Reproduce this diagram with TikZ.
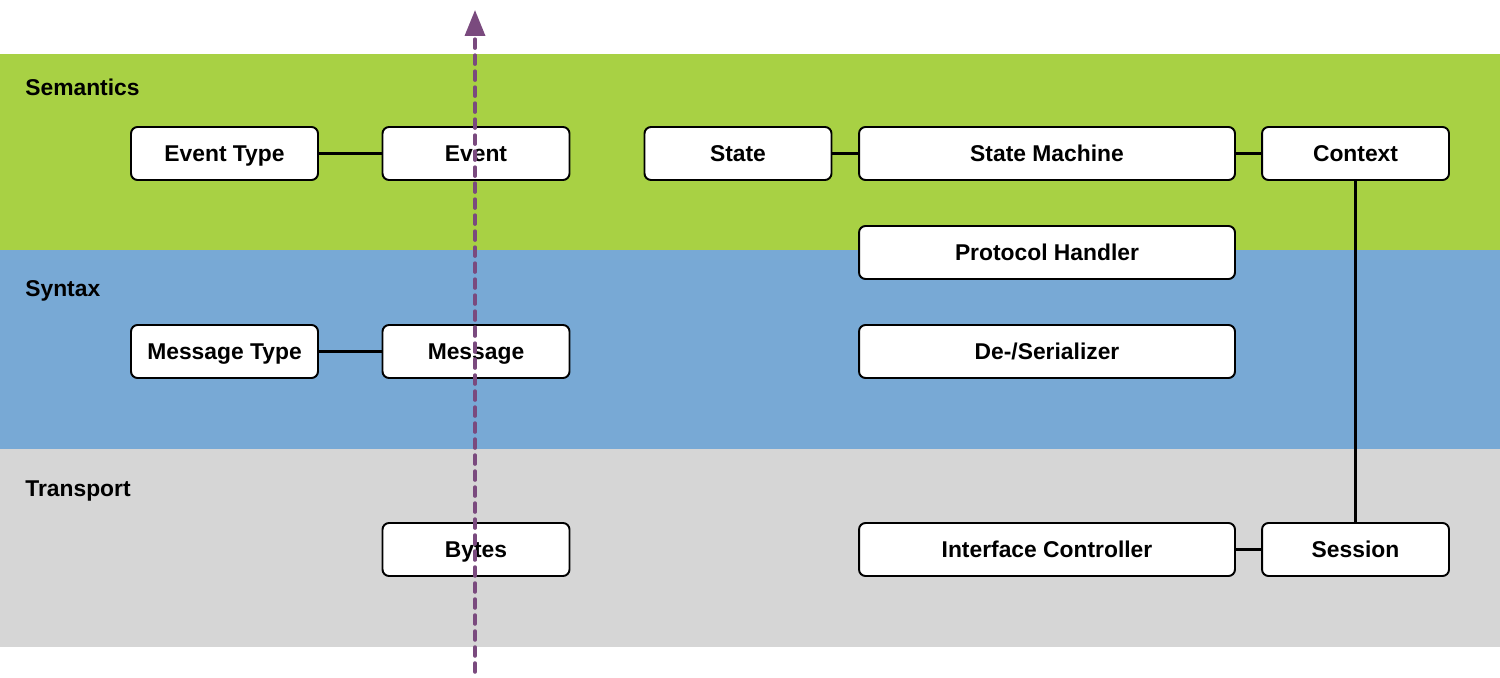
\documentclass[tikz,border=0pt]{standalone}
\usepackage{fontspec}
\setmainfont{Liberation Sans}
\usetikzlibrary{arrows.meta}
\definecolor{semgreen}{HTML}{A8D144}
\definecolor{synblue}{HTML}{78A9D5}
\definecolor{trgray}{HTML}{D6D6D6}
\definecolor{flowpurple}{HTML}{7A4A7E}
\tikzset{
  box/.style={draw=black, fill=white, line width=1.1pt, rounded corners=0.13cm,
    minimum width=3.74cm, minimum height=1.06cm, inner sep=0pt,
    text height=9.3pt, text depth=0pt,
    font=\fontsize{13}{15}\selectfont\bfseries},
  widebox/.style={box, minimum width=7.52cm},
  layerlabel/.style={anchor=west, inner sep=0pt, text height=9.3pt, text depth=0pt,
    font=\fontsize{13}{15}\selectfont\bfseries},
  link/.style={draw=black, line width=1.4pt},
  flow/.style={draw=flowpurple, line width=2pt, line cap=round,
    dash pattern=on 0.18cm off 0.14cm,
    -{Triangle[width=0.4cm,length=0.52cm,line cap=butt]}}
}
\begin{document}
\begin{tikzpicture}[x=0.02cm,y=-0.02cm]
\useasboundingbox (0,0) rectangle (1500,678);
\fill[semgreen] (0,54) rectangle (1500,250);
\fill[synblue] (0,250) rectangle (1500,449);
\fill[trgray] (0,449) rectangle (1500,647);
\node[layerlabel] (lsem) at (25,87) {Semantics};
\node[layerlabel] (lsyn) at (25,288) {Syntax};
\node[layerlabel] (ltr) at (25,488) {Transport};

\node[box] (evtype) at (224.5,153.5) {Event Type};
\node[box] (event) at (476,153.5) {Event};
\node[box] (state) at (738,153.5) {State};
\node[widebox] (sm) at (1047,153.5) {State Machine};
\node[box] (ctx) at (1355.5,153.5) {Context};
\node[widebox] (ph) at (1047,252.5) {Protocol Handler};
\node[box] (msgtype) at (224.5,351.5) {Message Type};
\node[box] (msg) at (476,351.5) {Message};
\node[widebox] (ser) at (1047,351.5) {De-/Serializer};
\node[box] (bytes) at (476,549.5) {Bytes};
\node[widebox] (ic) at (1047,549.5) {Interface Controller};
\node[box] (sess) at (1355.5,549.5) {Session};

\draw[link] (evtype) -- (event);
\draw[link] (state) -- (sm);
\draw[link] (sm) -- (ctx);
\draw[link] (msgtype) -- (msg);
\draw[link] (ic) -- (sess);
\draw[link] (ctx) -- (sess);

\coordinate (fbot) at (475,672);
\coordinate (ftop) at (475,10);
\draw[flow] (fbot) -- (ftop);
\end{tikzpicture}
\end{document}
